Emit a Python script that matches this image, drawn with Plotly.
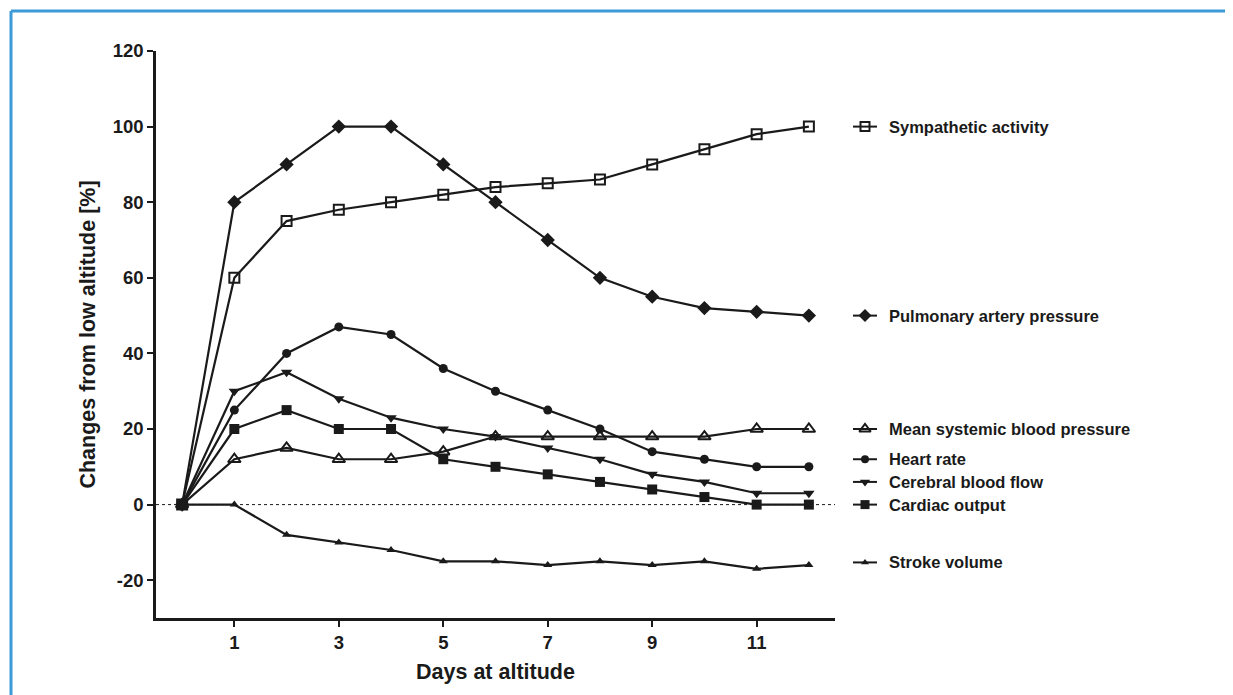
import plotly.graph_objects as go

# ---- data ----
days = [0, 1, 2, 3, 4, 5, 6, 7, 8, 9, 10, 11, 12]
sympathetic = [0, 60, 75, 78, 80, 82, 84, 85, 86, 90, 94, 98, 100]
pulmonary = [0, 80, 90, 100, 100, 90, 80, 70, 60, 55, 52, 51, 50]
mean_systemic = [0, 12, 15, 12, 12, 14, 18, 18, 18, 18, 18, 20, 20]
heart_rate = [0, 25, 40, 47, 45, 36, 30, 25, 20, 14, 12, 10, 10]
cerebral = [0, 30, 35, 28, 23, 20, 18, 15, 12, 8, 6, 3, 3]
cardiac = [0, 20, 25, 20, 20, 12, 10, 8, 6, 4, 2, 0, 0]
stroke = [0, 0, -8, -10, -12, -15, -15, -16, -15, -16, -15, -17, -16]

names = ["Sympathetic activity", "Pulmonary artery pressure",
         "Mean systemic blood pressure", "Heart rate",
         "Cerebral blood flow", "Cardiac output", "Stroke volume"]
series = [sympathetic, pulmonary, mean_systemic, heart_rate, cerebral, cardiac, stroke]
symbols = ["square-open", "diamond", "triangle-up-open", "circle",
           "triangle-down", "square", "triangle-up"]
sizes = [10, 11, 11, 9, 10, 10, 8]
# vertical position of each label (in y data units) in the side key
key_y = [100, 50, 20, 12, 6, 0, -15.3]

x_ticks = [1, 3, 5, 7, 9, 11]
y_ticks = [-20, 0, 20, 40, 60, 80, 100, 120]
y_tick_labels = ["-20", "0", "20", "40", "60", "80", "100", "120"]

INK = "#1a1a1a"
FONT = "Liberation Sans"

OFF = 8  # page body margin of the html page
W, H = 1233 - OFF, 695 - OFF
ML, MT = 156 - OFF, 51 - OFF
PH = 567
MB = H - MT - PH
MR = 0
PW = W - ML - MR
PLOT_R = 835 - OFF  # right edge of main axes in figure px
dom_end = (PLOT_R - ML) / PW

fig = go.Figure()

for name, vals, sym, sz in zip(names, series, symbols, sizes):
    fig.add_trace(go.Scatter(
        x=days, y=vals, mode="lines+markers", name=name,
        line=dict(color=INK, width=2.2),
        marker=dict(symbol=sym, size=sz, color=INK,
                    line=dict(color=INK, width=2 if "open" in sym else 0)),
        cliponaxis=False, showlegend=False,
    ))

# side key (drawn on a hidden pixel-unit axis)
KEY_X0, KEY_XM, KEY_X1, KEY_TX = 853 - OFF, 865 - OFF, 877 - OFF, 887 - OFF
for name, ly, sym, sz in zip(names, key_y, symbols, sizes):
    fig.add_trace(go.Scatter(
        x=[KEY_X0, KEY_X1], y=[ly, ly], mode="lines", xaxis="x2", yaxis="y",
        line=dict(color=INK, width=2), showlegend=False, hoverinfo="skip",
        cliponaxis=False,
    ))
    fig.add_trace(go.Scatter(
        x=[KEY_XM], y=[ly], mode="markers", xaxis="x2", yaxis="y",
        marker=dict(symbol=sym, size=sz - 1, color=INK,
                    line=dict(color=INK, width=2 if "open" in sym else 0)),
        showlegend=False, hoverinfo="skip", cliponaxis=False,
    ))
    fig.add_annotation(x=KEY_TX, y=ly, xref="x2", yref="y", text=name,
                       showarrow=False, xanchor="left", yanchor="middle",
                       font=dict(family=FONT, size=16.5, color=INK, weight="bold"))

# dotted zero line
fig.add_shape(type="line", xref="x domain", yref="y", x0=0, x1=1, y0=0, y1=0,
              line=dict(color=INK, width=1, dash="dot"), layer="below")


# blue frame (top and left edges), positions given in page px
def px_x(px):
    return (px - OFF - ML) / PW


def px_y(py):
    return (H - MB - (py - OFF)) / PH


fig.add_shape(type="line", xref="paper", yref="paper",
              x0=px_x(11), x1=px_x(1240), y0=px_y(11), y1=px_y(11),
              line=dict(color="#3d9ad6", width=3))
fig.add_shape(type="line", xref="paper", yref="paper",
              x0=px_x(11), x1=px_x(11), y0=px_y(11), y1=px_y(700),
              line=dict(color="#3d9ad6", width=3))

fig.update_layout(
    width=W, height=H,
    margin=dict(l=ML, r=MR, t=MT, b=MB, autoexpand=False),
    paper_bgcolor="white", plot_bgcolor="white",
    font=dict(family=FONT, color=INK),
    xaxis=dict(
        domain=[0, dom_end], range=[-0.5, 12.5], tickvals=x_ticks,
        showgrid=False, zeroline=False, showline=True, linecolor=INK,
        linewidth=2.5, ticks="outside", ticklen=6, tickwidth=2, tickcolor=INK,
        tickfont=dict(family=FONT, size=18.5, color=INK, weight="bold"),
        title=dict(text="Days at altitude", standoff=12,
                   font=dict(family=FONT, size=21.5, color=INK, weight="bold")),
        automargin=False,
    ),
    xaxis2=dict(
        domain=[dom_end, 1], range=[PLOT_R, W], visible=False, anchor="y",
    ),
    yaxis=dict(
        range=[-30, 120], tickvals=y_ticks, ticktext=y_tick_labels,
        showgrid=False, zeroline=False, showline=True, linecolor=INK,
        linewidth=2.5, ticks="outside", ticklen=6, tickwidth=2, tickcolor=INK,
        tickfont=dict(family=FONT, size=18.5, color=INK, weight="bold"),
        title=dict(text="Changes from low altitude [%]", standoff=12,
                   font=dict(family=FONT, size=21.5, color=INK, weight="bold")),
        automargin=False,
    ),
)

fig.write_html("out.html")
